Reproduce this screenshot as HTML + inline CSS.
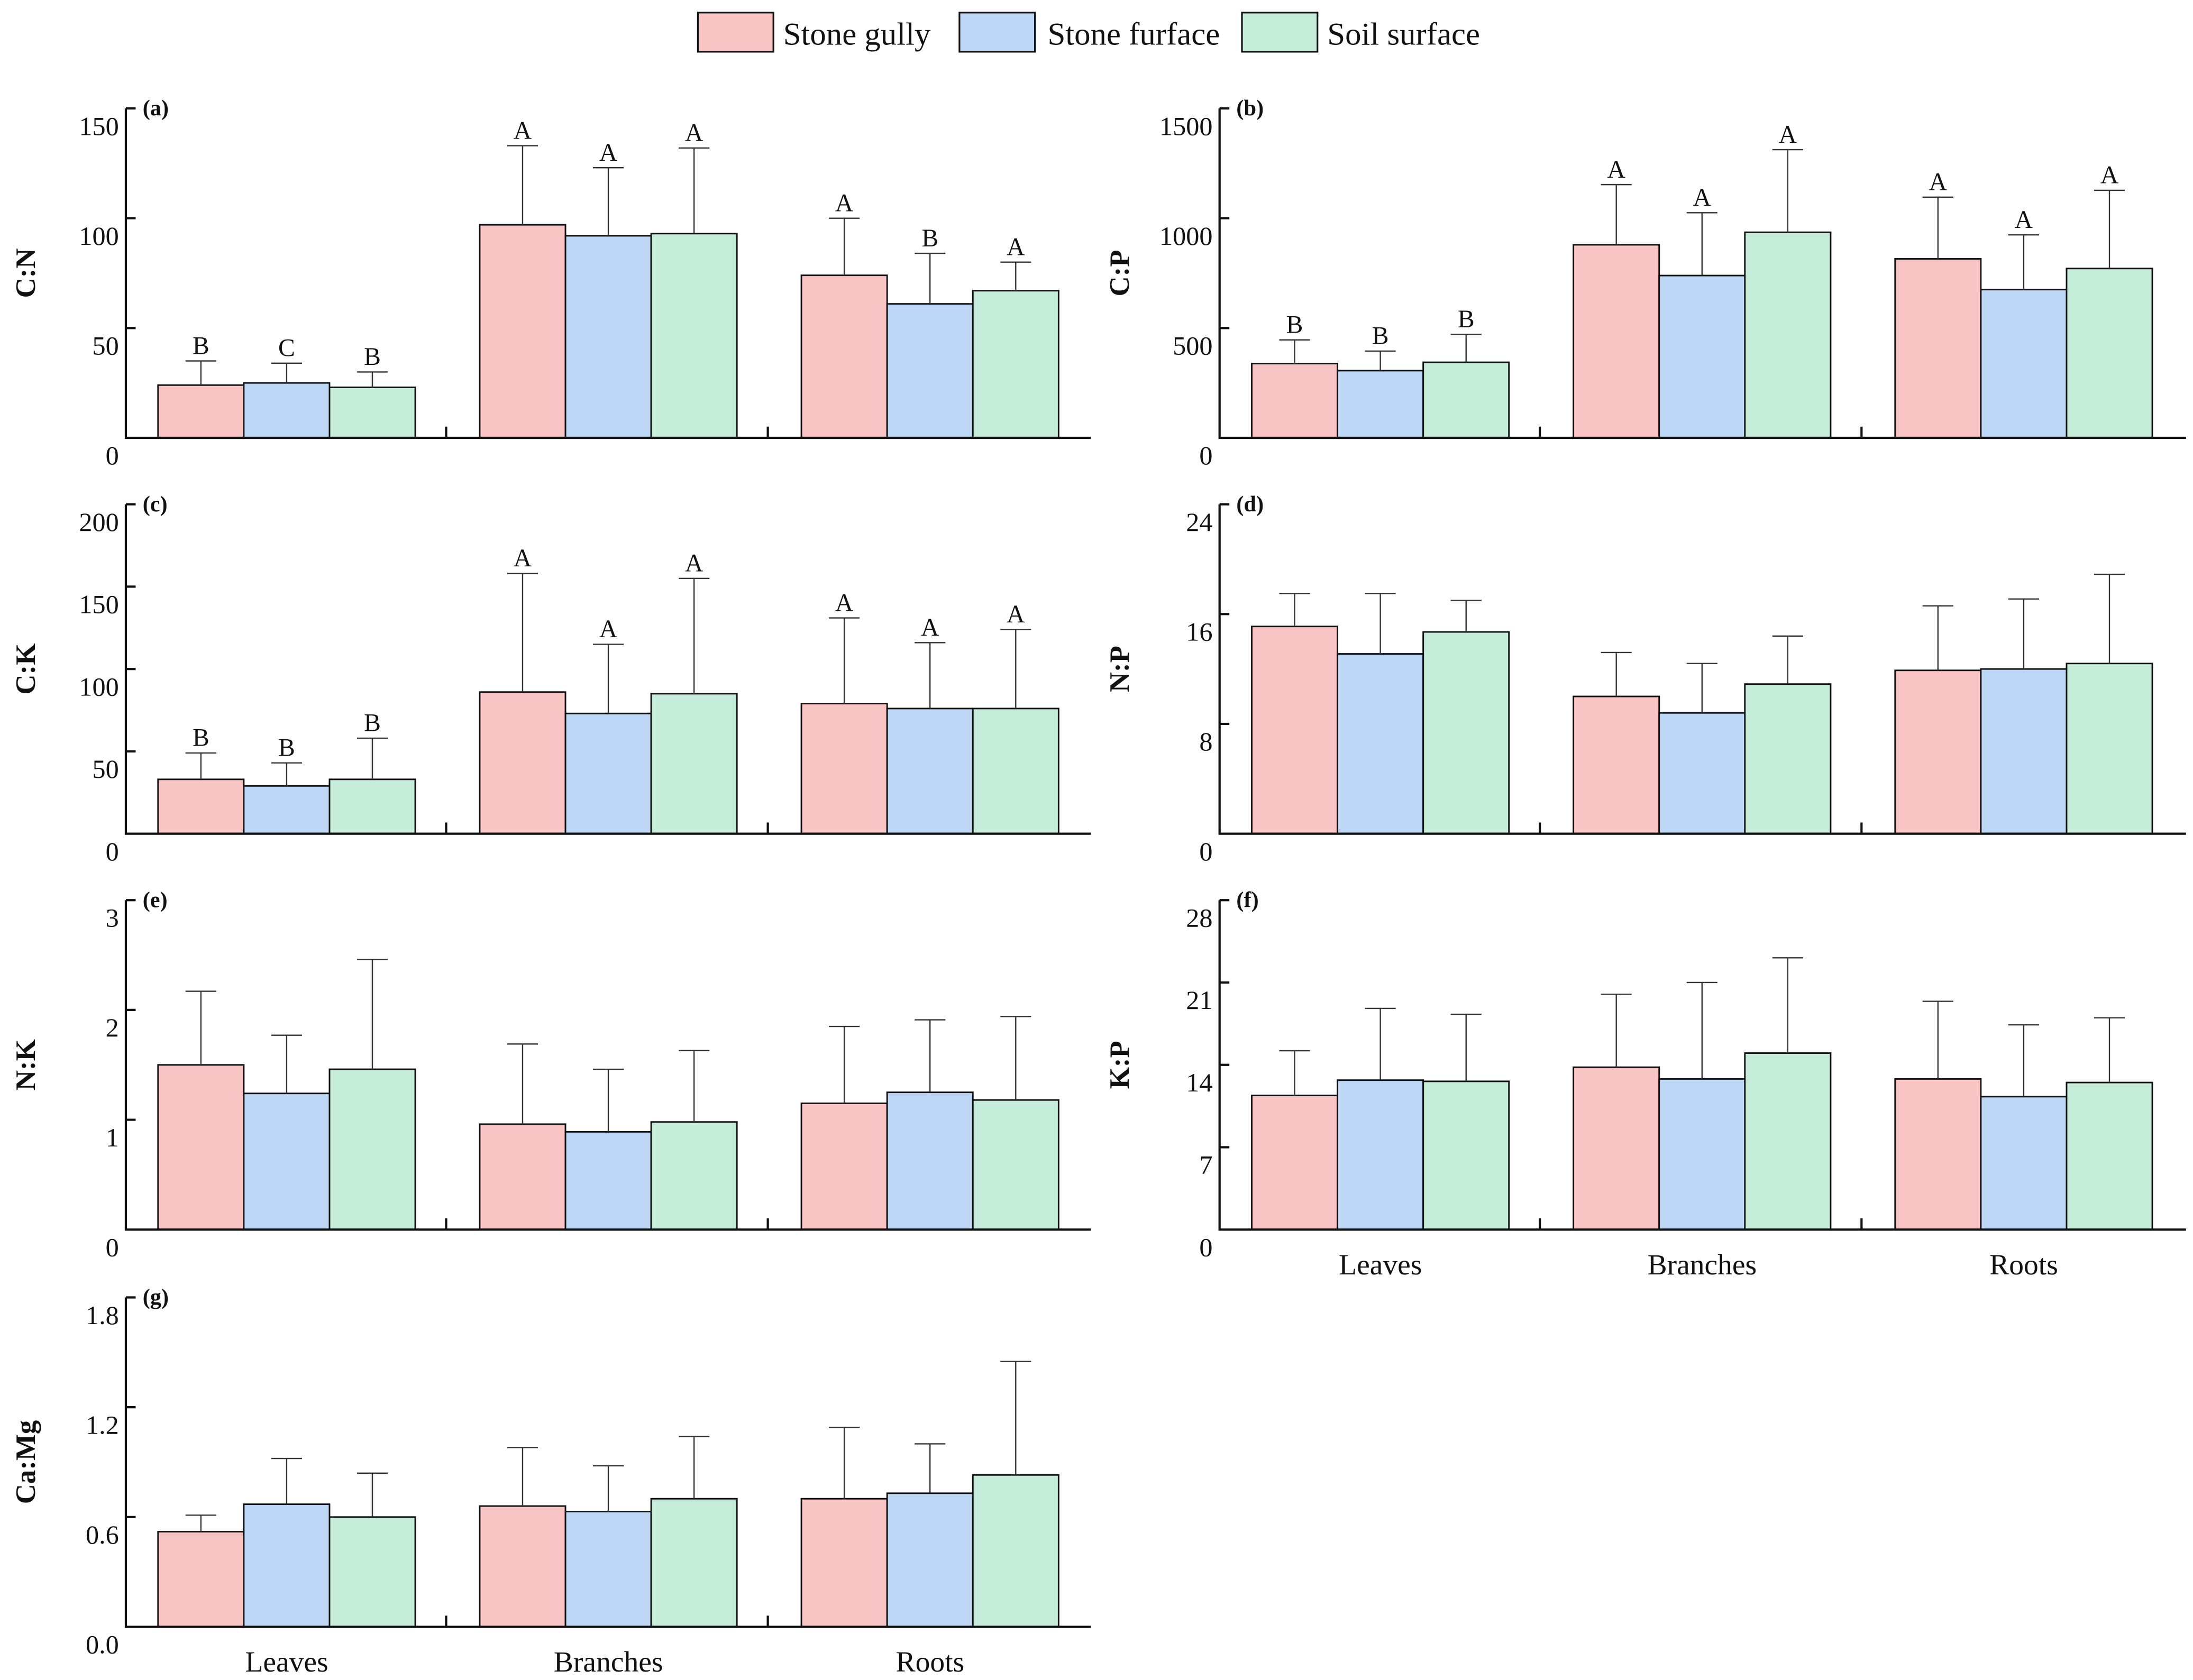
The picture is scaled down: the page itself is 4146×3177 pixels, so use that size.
<!DOCTYPE html>
<html><head><meta charset="utf-8"><style>
html,body{margin:0;padding:0;background:#fff}
svg{display:block}
text{font-family:"Liberation Serif",serif;fill:#111}
</style></head><body>
<svg id="chart" xmlns="http://www.w3.org/2000/svg" width="4146" height="3177" viewBox="0 0 1568 1201" preserveAspectRatio="none">
<g id="legend">
<rect x="499" y="9" width="54" height="28" fill="#f8c4c4" stroke="#111" stroke-width="1.2"/>
<text x="560" y="32" font-size="23">Stone gully</text>
<rect x="686" y="9" width="54" height="28" fill="#bcd6f5" stroke="#111" stroke-width="1.2"/>
<text x="749" y="32" font-size="23">Stone furface</text>
<rect x="888" y="9" width="54" height="28" fill="#c5ecd8" stroke="#111" stroke-width="1.2"/>
<text x="949" y="32" font-size="23">Soil surface</text>
</g>
</svg>
<script>
const categories = ["Leaves","Branches","Roots"];
const seriesNames = ["Stone gully","Stone furface","Soil surface"];
const colors = ["#f8c4c4","#bcd6f5","#c5ecd8"];
const cnMean = [[24,25,23],[97,92,93],[74,61,67]];
const cnErr  = [[35,34,30],[133,123,132],[100,84,80]];
const cnLet  = [["B","C","B"],["A","A","A"],["A","B","A"]];
const cpMean = [[338,306,344],[879,739,936],[815,675,771]];
const cpErr  = [[446,395,471],[1153,1025,1312],[1096,924,1127]];
const cpLet  = [["B","B","B"],["A","A","A"],["A","A","A"]];
const ckMean = [[33,29,33],[86,73,85],[79,76,76]];
const ckErr  = [[49,43,58],[158,115,155],[131,116,124]];
const ckLet  = [["B","B","B"],["A","A","A"],["A","A","A"]];
const npMean = [[15.1,13.1,14.7],[10.0,8.8,10.9],[11.9,12.0,12.4]];
const npErr  = [[17.5,17.5,17.0],[13.2,12.4,14.4],[16.6,17.1,18.9]];
const nkMean = [[1.50,1.24,1.46],[0.96,0.89,0.98],[1.15,1.25,1.18]];
const nkErr  = [[2.17,1.77,2.46],[1.69,1.46,1.63],[1.85,1.91,1.94]];
const kpMean = [[11.4,12.7,12.6],[13.8,12.8,15.0],[12.8,11.3,12.5]];
const kpErr  = [[15.2,18.8,18.3],[20.0,21.0,23.1],[19.4,17.4,18.0]];
const camgMean = [[0.52,0.67,0.60],[0.66,0.63,0.70],[0.70,0.73,0.83]];
const camgErr  = [[0.61,0.92,0.84],[0.98,0.88,1.04],[1.09,1.00,1.45]];
const cnTicks = ["0","50","100","150"];
const cpTicks = ["0","500","1000","1500"];
const ckTicks = ["0","50","100","150","200"];
const npTicks = ["0","8","16","24"];
const nkTicks = ["0","1","2","3"];
const kpTicks = ["0","7","14","21","28"];
const camgTicks = ["0.0","0.6","1.2","1.8"];

const NS="http://www.w3.org/2000/svg";
const svg=document.getElementById('chart');
function el(tag,attrs,parent){const e=document.createElementNS(NS,tag);for(const k in attrs)e.setAttribute(k,attrs[k]);(parent||svg).appendChild(e);return e;}

const panels=[
 {id:"a",title:"C:N",mean:cnMean,err:cnErr,let:cnLet,ticks:cnTicks,col:0,row:0},
 {id:"b",title:"C:P",mean:cpMean,err:cpErr,let:cpLet,ticks:cpTicks,col:1,row:0},
 {id:"c",title:"C:K",mean:ckMean,err:ckErr,let:ckLet,ticks:ckTicks,col:0,row:1},
 {id:"d",title:"N:P",mean:npMean,err:npErr,let:null,ticks:npTicks,col:1,row:1},
 {id:"e",title:"N:K",mean:nkMean,err:nkErr,let:null,ticks:nkTicks,col:0,row:2},
 {id:"f",title:"K:P",mean:kpMean,err:kpErr,let:null,ticks:kpTicks,col:1,row:2,xl:true},
 {id:"g",title:"Ca:Mg",mean:camgMean,err:camgErr,let:null,ticks:camgTicks,col:0,row:3,xl:true}
];
const zeros=[313,596,879,1163];
const H=235.5;
panels.forEach(p=>{
  const ox=p.col?782:0;
  const ax=90+ox, xend=p.col?1563:780;
  const y0=zeros[p.row];
  const tickVals=p.ticks.map(Number);
  const max=tickVals[tickVals.length-1];
  const Y=v=>y0-v/max*H;
  const g=el('g',{});
  
  
  p.mean.forEach((grp,ci)=>{
    grp.forEach((v,si)=>{
      const x=113+ox+ci*230+si*61.3;
      const r=el('rect',{x:x,y:Y(v),width:61.3,height:y0-Y(v),fill:colors[si],stroke:'#111','stroke-width':1.1},g);
      
      
      const cx=x+30.65, ye=Y(p.err[ci][si]);
      const eb=el('path',{d:`M${cx},${Y(v)}V${ye}M${cx-11},${ye}H${cx+11}`,stroke:'#333','stroke-width':0.9,fill:'none'},g);
      
      
      if(p.let){
        const t=el('text',{x:cx,y:ye-5,'font-size':18,'text-anchor':'middle'},g);
        t.textContent=p.let[ci][si];
        
        
      }
    });
  });
  const axis=el('path',{d:`M${ax},${Y(max)}V${y0}H${xend}`,stroke:'#111','stroke-width':1.6,fill:'none'},g);
  
  
  tickVals.forEach((v,i)=>{
    if(v>0){el('path',{d:`M${ax},${Y(v)}H${ax+7}`,stroke:'#111','stroke-width':1.6},g);}
    const t=el('text',{x:ax-5,y:Y(v)+19,'font-size':19,'text-anchor':'end'},g);
    t.textContent=p.ticks[i];
    
    
  });
  [319,549].forEach(tx=>el('path',{d:`M${tx+ox},${y0}V${y0-8}`,stroke:'#111','stroke-width':1.6},g));
  const lab=el('text',{x:ax+12,y:Y(max)+5,'font-size':16,'font-weight':'bold'},g);
  lab.textContent='('+p.id+')';
  
  
  const cy=y0-H/2;
  const tt=el('text',{x:ox+25,y:cy,'font-size':20,'font-weight':'bold','text-anchor':'middle',transform:`rotate(-90 ${ox+25} ${cy})`},g);
  tt.textContent=p.title;
  
  
  if(p.xl){
    categories.forEach((c,ci)=>{
      const t=el('text',{x:205+ox+ci*230,y:y0+32,'font-size':21,'text-anchor':'middle'},g);
      t.textContent=c;
      
      
    });
  }
});
</script>
</body></html>
